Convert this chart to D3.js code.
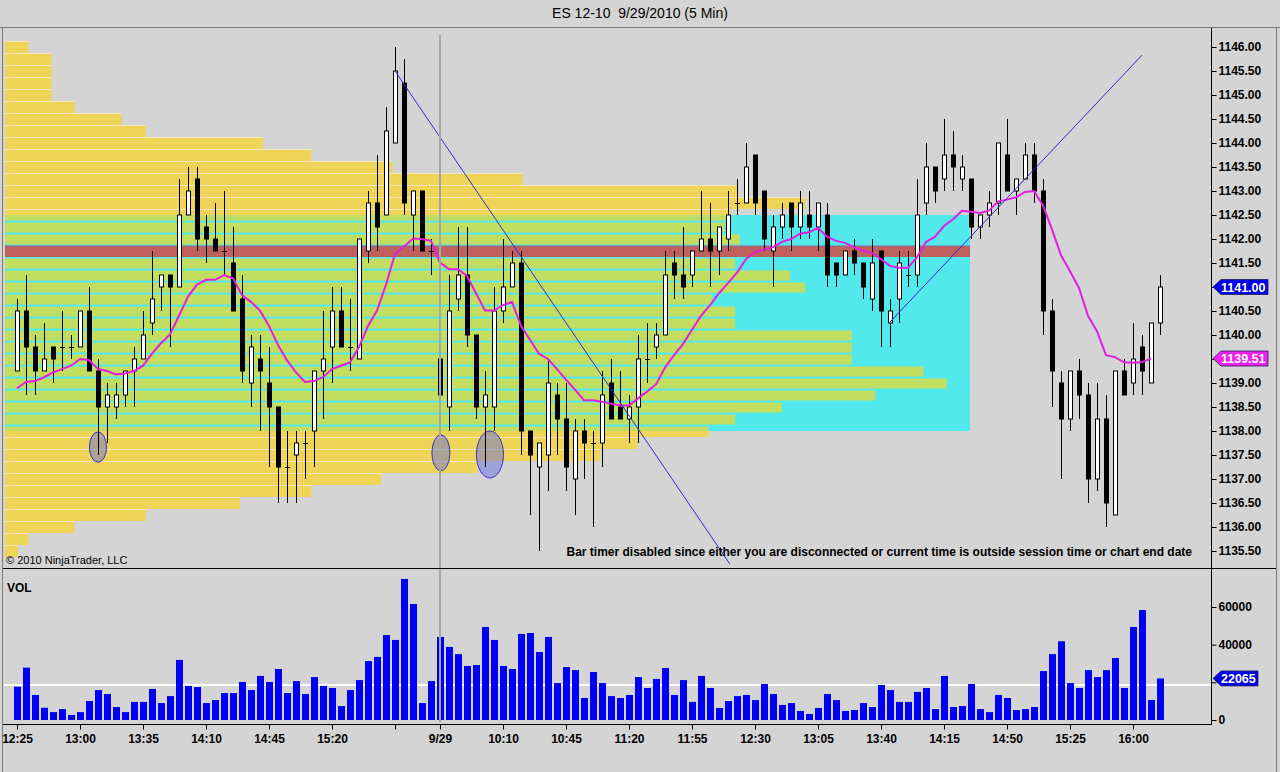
<!DOCTYPE html>
<html><head><meta charset="utf-8">
<script src="https://cdn.jsdelivr.net/npm/d3@7"></script>
<style>html,body{margin:0;padding:0;background:#d4d4d4;}svg{display:block;}</style>
</head><body>
<svg id="c" width="1280" height="772"></svg>
<script>
// ---------------- DATA ----------------
const opens = [1139.25,1140.50,1139.75,1139.25,1139.75,1139.75,1139.75,1139.75,1140.50,1139.25,
1138.50,1138.50,1138.75,1139.25,1139.50,1140.25,1141.00,1141.25,1141.00,1142.50,
1143.25,1142.25,1142.00,1141.75,1141.50,1140.75,1139.00,1139.50,1139.00,1138.50,
1137.25,1137.50,1137.75,1138.00,1139.25,1139.75,1140.50,1139.75,1139.50,1141.75,
1142.75,1142.50,1144.00,1145.25,1142.50,1143.00,1141.75,1139.50,1138.50,1140.75,
1141.25,1140.00,1138.50,1138.50,1140.50,1141.00,1141.50,1138.00,1137.25,1137.50,
1138.75,1138.25,1137.00,1138.00,1137.75,1137.75,1139.00,1138.50,1138.25,1138.50,
1139.50,1139.75,1140.00,1141.50,1141.25,1141.25,1141.75,1142.00,1141.75,1142.00,
1142.75,1142.75,1143.75,1143.00,1141.75,1142.25,1142.75,1142.25,1142.50,1142.25,
1142.50,1141.50,1141.25,1141.75,1141.50,1140.75,1141.75,1140.25,1140.75,1141.25,
1141.25,1142.75,1143.50,1143.25,1143.75,1143.25,1143.25,1142.25,1142.50,1142.75,
1143.75,1143.00,1143.25,1143.75,1143.00,1140.50,1139.00,1138.25,1139.25,1138.75,
1137.00,1138.25,1136.25,1139.25,1139.00,1139.75,1139.00,1140.25];
const highs = [1140.75,1141.25,1140.00,1140.25,1139.75,1140.50,1140.00,1140.50,1141.00,1139.50,
1139.00,1139.00,1139.25,1139.75,1140.50,1141.75,1141.25,1141.25,1143.25,1143.50,
1143.50,1142.50,1142.75,1143.00,1142.25,1141.25,1140.00,1140.00,1139.75,1138.50,
1138.00,1138.00,1138.00,1139.25,1140.50,1141.00,1141.00,1140.75,1142.00,1143.00,
1143.75,1144.75,1146.00,1145.75,1143.00,1143.00,1142.00,1139.75,1141.25,1142.25,
1142.25,1140.00,1139.25,1141.00,1142.00,1141.75,1141.75,1138.00,1137.75,1139.50,
1139.00,1139.00,1138.25,1138.25,1138.00,1139.25,1139.50,1139.25,1138.75,1140.00,
1140.25,1140.25,1141.75,1141.75,1142.25,1141.75,1143.00,1142.75,1142.25,1143.00,
1143.25,1144.00,1143.75,1143.00,1142.50,1142.75,1142.75,1143.00,1143.00,1142.75,
1142.75,1141.50,1141.75,1142.00,1141.50,1142.00,1141.75,1140.75,1141.75,1141.75,
1143.25,1144.00,1143.50,1144.50,1144.25,1143.75,1143.25,1142.50,1143.00,1144.00,
1144.50,1143.25,1144.00,1144.00,1143.25,1140.75,1139.25,1139.25,1139.50,1139.00,
1139.00,1138.75,1139.25,1139.50,1140.25,1140.00,1140.25,1141.25];
const lows = [1139.25,1138.75,1138.75,1139.25,1139.00,1139.25,1139.50,1139.75,1139.25,1137.50,
1137.75,1138.25,1138.50,1138.50,1139.50,1140.00,1140.50,1139.75,1141.00,1142.50,
1141.75,1141.50,1141.75,1141.25,1140.50,1139.00,1138.50,1138.00,1137.25,1136.50,
1136.50,1136.50,1137.00,1137.25,1138.25,1139.00,1139.75,1139.25,1139.50,1141.50,
1141.75,1142.50,1144.00,1142.50,1141.75,1141.75,1141.25,1137.50,1138.00,1140.50,
1139.75,1138.25,1137.25,1138.00,1140.25,1141.00,1137.50,1136.25,1135.50,1136.75,
1137.50,1136.75,1136.25,1137.00,1136.00,1137.25,1138.25,1138.25,1137.75,1137.75,
1139.00,1139.50,1140.00,1140.75,1140.75,1141.00,1141.75,1141.00,1141.25,1141.75,
1142.50,1142.75,1142.50,1141.75,1141.00,1142.00,1141.75,1142.00,1142.00,1141.75,
1141.00,1141.00,1141.25,1141.25,1140.75,1140.50,1139.75,1139.75,1140.25,1141.00,
1141.00,1142.50,1142.75,1143.00,1143.00,1143.00,1142.00,1142.00,1142.25,1142.50,
1143.00,1142.50,1143.25,1142.75,1140.00,1138.50,1137.00,1138.00,1138.25,1136.50,
1136.75,1136.00,1136.25,1138.75,1138.75,1138.75,1139.00,1140.00];
const closes = [1140.50,1139.75,1139.25,1139.50,1139.50,1139.75,1139.75,1140.50,1139.25,1138.50,
1138.75,1138.75,1139.25,1139.50,1140.00,1140.75,1141.25,1141.00,1142.50,1143.00,
1142.00,1142.00,1141.75,1141.75,1140.50,1139.25,1139.75,1139.25,1138.50,1137.25,
1137.25,1137.75,1137.75,1139.25,1139.50,1140.50,1139.75,1139.75,1142.00,1142.75,
1142.25,1144.25,1145.50,1142.75,1143.00,1141.75,1141.75,1138.75,1140.50,1141.25,
1140.00,1138.50,1138.75,1140.50,1141.00,1141.50,1138.00,1137.50,1137.75,1139.00,
1138.25,1137.25,1138.00,1137.75,1137.75,1138.75,1138.25,1138.25,1138.50,1139.50,
1139.50,1140.00,1141.25,1141.25,1141.00,1141.75,1142.00,1141.75,1142.25,1142.50,
1142.75,1143.50,1142.75,1142.00,1142.25,1142.50,1142.25,1142.75,1142.25,1142.75,
1141.25,1141.25,1141.75,1141.50,1141.00,1141.50,1140.50,1140.50,1141.50,1141.25,
1142.50,1143.50,1143.00,1143.75,1143.50,1143.50,1142.25,1142.50,1142.75,1144.00,
1143.00,1143.25,1143.75,1143.00,1140.50,1139.25,1138.25,1139.25,1138.75,1137.00,
1138.25,1136.50,1139.25,1138.75,1139.50,1139.25,1140.25,1141.00];
const volumes = [17700,27800,13300,6500,4200,5800,2700,4200,10100,15900,
13800,6900,4200,9600,9600,16500,9000,12700,31900,18100,
17500,9000,10600,14300,14300,20200,15900,23400,20200,27100,
14300,20700,13800,22800,18100,17000,7400,15900,21200,31300,
33500,45100,42500,74900,61600,9000,20700,44100,38800,35000,
28700,29200,49400,42500,28700,27100,45700,46200,36100,44100,
19600,28100,26500,11700,25500,19600,12700,11700,13300,22800,
17000,21800,27600,13300,21200,9600,23400,17000,6400,10100,
12700,13300,10600,19100,13800,8000,9000,4800,3200,6400,
13800,10600,4800,5300,9000,6900,18600,15900,9600,9600,
14900,17000,5800,23400,6900,7400,19100,5800,4200,13300,
11700,5300,5800,6900,26000,35000,41800,19600,17000,26500,
22800,26500,32900,17000,49400,58400,10600,22065];
// moving average (bars 0..126)
const maValues = [1138.89,1139.02,1139.04,1139.12,1139.22,1139.29,1139.36,1139.50,1139.48,1139.29,
1139.25,1139.18,1139.20,1139.25,1139.36,1139.61,1139.83,1140.01,1140.40,1140.80,
1141.05,1141.15,1141.15,1141.25,1141.18,1140.83,1140.69,1140.51,1140.19,1139.79,
1139.47,1139.22,1139.02,1139.04,1139.12,1139.29,1139.36,1139.43,1139.75,1140.19,
1140.51,1141.05,1141.69,1141.84,1142.01,1142.00,1141.96,1141.51,1141.37,1141.37,
1141.23,1140.87,1140.51,1140.51,1140.62,1140.69,1140.19,1139.90,1139.61,1139.50,
1139.29,1139.07,1138.86,1138.64,1138.64,1138.61,1138.57,1138.53,1138.53,1138.68,
1138.82,1138.97,1139.32,1139.58,1139.81,1140.11,1140.40,1140.62,1140.87,1141.08,
1141.30,1141.58,1141.73,1141.78,1141.83,1141.94,1142.00,1142.11,1142.14,1142.23,
1142.05,1141.96,1141.92,1141.83,1141.76,1141.71,1141.58,1141.44,1141.40,1141.40,
1141.62,1141.94,1142.05,1142.27,1142.41,1142.59,1142.57,1142.54,1142.59,1142.78,
1142.82,1142.87,1142.98,1143.00,1142.70,1142.20,1141.66,1141.33,1140.98,1140.40,
1140.08,1139.58,1139.54,1139.43,1139.42,1139.43,1139.51];
// volume profile (price level -> volume, thousands of contracts)
const profilePrices = [1146.00,1145.75,1145.50,1145.25,1145.00,1144.75,1144.50,1144.25,1144.00,1143.75,
1143.50,1143.25,1143.00,1142.75,1142.50,1142.25,1142.00,1141.75,1141.50,1141.25,
1141.00,1140.75,1140.50,1140.25,1140.00,1139.75,1139.50,1139.25,1139.00,1138.75,
1138.50,1138.25,1138.00,1137.75,1137.50,1137.25,1137.00,1136.75,1136.50,1136.25,
1136.00,1135.75,1135.50];
const profileVolumes = [2.9,5.8,5.8,5.8,5.8,8.7,14.5,17.5,32.1,38.1,
48.2,64.4,91.0,99.5,90.2,89.5,91.4,120.0,90.8,97.6,
99.5,87.9,90.8,90.8,105.3,105.3,105.3,114.2,117.1,108.2,
96.6,90.8,87.5,78.7,74.0,58.7,46.8,38.1,29.2,17.5,
8.6,2.9,1.6];
const pocPrice = 1141.75, vaHigh = 1142.50, vaLow = 1138.00;
const timeTickIndex = [0,7,14,21,28,35,42,47,54,61,68,75,82,89,96,103,110,117,124];
const timeTickLabels = ["12:25","13:00","13:35","14:10","14:45","15:20","","9/29","10:10","10:45","11:20","11:55","12:30","13:05","13:40","14:15","14:50","15:25","16:00"];
const priceTicks = [1146.00,1145.50,1145.00,1144.50,1144.00,1143.50,1143.00,1142.50,1142.00,1141.50,1141.00,1140.50,1140.00,1139.50,1139.00,1138.50,1138.00,1137.50,1137.00,1136.50,1136.00,1135.50];
const volTicks = [0,20000,40000,60000];
const avgVolume = 18600;
const sessionBreakIndex = 47;
// drawn trend lines: [bar index, price]
const trendLines = [[[42,1145.50],[79.2,1135.23]], [[97,1140.27],[125,1145.83]]];
// ellipses: bar index, top price, bottom price, half width in bars
const ellipses = [{i:9,top:1137.98,bot:1137.35,hw:0.95},{i:47.1,top:1137.92,bot:1137.17,hw:1.0},{i:52.55,top:1138.0,bot:1137.02,hw:1.5}];

// ---------------- DRAW ----------------
const svg = d3.select("#c");
const FONT = "Liberation Sans, Arial, sans-serif";
const x = d3.scaleLinear().domain([0,127]).range([17,1160]);
const y = d3.scaleLinear().domain([1135.5,1146]).range([551,47]);
const yv = d3.scaleLinear().domain([0,60000]).range([720,607]);
const px = d3.scaleLinear().domain([0,120]).range([5,970]);
const rowH = Math.abs(y(1141) - y(1141.25));
const lastClose = closes[closes.length-1], lastMA = maValues[maValues.length-1], lastVol = volumes[volumes.length-1];

svg.append("rect").attr("width",1280).attr("height",772).attr("fill","#d4d4d4");
// title
svg.append("text").attr("x",640).attr("y",18).attr("text-anchor","middle").attr("xml:space","preserve")
  .style("white-space","pre")
  .attr("font-family",FONT).attr("font-size",14).attr("fill","#000").text("ES 12-10  9/29/2010 (5 Min)");

const plot = svg.append("g");
plot.append("defs").append("clipPath").attr("id","pclip").append("rect")
  .attr("x",4).attr("y",29).attr("width",1207).attr("height",538);
const pg = plot.append("g").attr("clip-path","url(#pclip)");

// profile rows (yellow)
const prof = profilePrices.map((p,k)=>({p, v:profileVolumes[k]}));
pg.selectAll("rect.py").data(prof).join("rect").attr("class","py")
  .attr("x",px(0)).attr("y",d=>y(d.p)-rowH/2).attr("width",d=>px(d.v)-px(0)).attr("height",rowH)
  .attr("fill","#eed558");
pg.selectAll("line.pys").data(prof).join("line").attr("class","pys")
  .attr("x1",px(0)).attr("x2",d=>px(d.v)).attr("y1",d=>y(d.p)-rowH/2+0.5).attr("y2",d=>y(d.p)-rowH/2+0.5)
  .attr("stroke","#f1e6bd").attr("stroke-width",1);
// value area box
const vaTop = y(vaHigh), vaBot = y(vaLow);
pg.append("rect").attr("x",px(0)).attr("y",vaTop).attr("width",px(120)-px(0)).attr("height",vaBot-vaTop).attr("fill","#52e9ec");
pg.append("clipPath").attr("id","vaclip").append("rect").attr("x",0).attr("y",vaTop).attr("width",1280).attr("height",vaBot-vaTop);
pg.append("g").attr("clip-path","url(#vaclip)").selectAll("rect").data(prof).join("rect")
  .attr("x",px(0)).attr("y",d=>y(d.p)-rowH/2+1.5).attr("width",d=>px(d.v)-px(0)).attr("height",rowH-2)
  .attr("fill","#c2dd5f");
// POC band
pg.append("rect").attr("x",px(0)).attr("y",y(pocPrice)-rowH/2+1).attr("width",px(120)-px(0)).attr("height",rowH-1)
  .attr("fill","#bf605c");
pg.append("line").attr("x1",px(0)).attr("x2",px(120)).attr("y1",y(pocPrice)-rowH/2+1).attr("y2",y(pocPrice)-rowH/2+1)
  .attr("stroke","#8a6a90").attr("stroke-width",1);

// volume panel: average line first, bars on top
const vg = svg.append("g");
vg.append("line").attr("x1",4).attr("x2",1211).attr("y1",yv(avgVolume)).attr("y2",yv(avgVolume))
  .attr("stroke","#fff").attr("stroke-width",2);
vg.selectAll("rect.v").data(volumes).join("rect").attr("class","v")
  .attr("x",(d,i)=>Math.round(x(i))-3).attr("width",7)
  .attr("y",d=>yv(d)).attr("height",d=>yv(0)-yv(d)).attr("fill","#0000f6");

// session break line
svg.append("line").attr("x1",x(sessionBreakIndex)).attr("x2",x(sessionBreakIndex)).attr("y1",35).attr("y2",722)
  .attr("stroke","#a6a6a6").attr("stroke-width",2);

// ellipses
pg.selectAll("ellipse").data(ellipses).join("ellipse")
  .attr("cx",d=>x(d.i)).attr("cy",d=>(y(d.top)+y(d.bot))/2)
  .attr("rx",d=>x(d.hw)-x(0)).attr("ry",d=>(y(d.bot)-y(d.top))/2)
  .attr("fill","rgba(80,90,232,0.42)").attr("stroke","#3434c4").attr("stroke-width",1);

// candles
const bars = opens.map((o,i)=>({i,o,h:highs[i],l:lows[i],c:closes[i]}));
const cg = pg.append("g");
cg.selectAll("line.w").data(bars).join("line").attr("class","w")
  .attr("x1",d=>Math.round(x(d.i))+0.5).attr("x2",d=>Math.round(x(d.i))+0.5)
  .attr("y1",d=>y(d.h)).attr("y2",d=>y(d.l)).attr("stroke","#000").attr("stroke-width",1);
cg.selectAll("rect.b").data(bars.filter(d=>d.o!==d.c)).join("rect").attr("class","b")
  .attr("x",d=>Math.round(x(d.i))-1.5).attr("width",4)
  .attr("y",d=>y(Math.max(d.o,d.c))).attr("height",d=>Math.abs(y(d.o)-y(d.c)))
  .attr("fill",d=>d.c>d.o?"#fff":"#000").attr("stroke","#000").attr("stroke-width",1);
cg.selectAll("line.dj").data(bars.filter(d=>d.o===d.c)).join("line").attr("class","dj")
  .attr("x1",d=>Math.round(x(d.i))-2).attr("x2",d=>Math.round(x(d.i))+3)
  .attr("y1",d=>Math.round(y(d.o))+0.5).attr("y2",d=>Math.round(y(d.o))+0.5).attr("stroke","#000");

// moving average
pg.append("path").datum(maValues).attr("fill","none").attr("stroke","#e21fe0").attr("stroke-width",2)
  .attr("d",d3.line().x((d,i)=>x(i)).y(d=>y(d)));

// trend lines
pg.selectAll("line.tl").data(trendLines).join("line").attr("class","tl")
  .attr("x1",d=>x(d[0][0])).attr("y1",d=>y(d[0][1])).attr("x2",d=>x(d[1][0])).attr("y2",d=>y(d[1][1]))
  .attr("stroke","#2d2dd6").attr("stroke-width",1);

// texts in price panel
svg.append("text").attr("x",1192).attr("y",556).attr("text-anchor","end").attr("font-family",FONT)
  .attr("font-size",12).attr("font-weight","bold").attr("fill","#000")
  .text("Bar timer disabled since either you are disconnected or current time is outside session time or chart end date");
svg.append("text").attr("x",6).attr("y",564).attr("font-family",FONT).attr("font-size",11).attr("fill","#000")
  .text("\u00a9 2010 NinjaTrader, LLC");
svg.append("text").attr("x",7).attr("y",592).attr("font-family",FONT).attr("font-size",12).attr("font-weight","bold").text("VOL");

// frame lines
const frame = svg.append("g").attr("stroke","#000").attr("stroke-width",1);
frame.append("line").attr("x1",0).attr("x2",1280).attr("y1",27.5).attr("y2",27.5).attr("stroke","#7a7a7a");
frame.append("line").attr("x1",2.5).attr("x2",2.5).attr("y1",28).attr("y2",772).attr("stroke","#7a7a7a");
frame.append("line").attr("x1",1276.5).attr("x2",1276.5).attr("y1",28).attr("y2",772).attr("stroke","#7a7a7a");
frame.append("line").attr("x1",3).attr("x2",1276).attr("y1",568.5).attr("y2",568.5);
frame.append("line").attr("x1",3).attr("x2",1212).attr("y1",724.5).attr("y2",724.5);
frame.append("line").attr("x1",1211.5).attr("x2",1211.5).attr("y1",28).attr("y2",725);

// axis label style helper; labels hidden behind value markers are not drawn
function styleAxis(g, hidden){
  g.select(".domain").remove();
  g.selectAll("text").attr("font-family",FONT).attr("font-size",12).attr("font-weight","bold").attr("fill","#000")
    .filter(d=>hidden(d)).remove();
}
const pa = svg.append("g").attr("transform","translate(1211.5,0)");
pa.call(d3.axisRight(y).tickValues(priceTicks).tickFormat(d3.format(".2f")).tickSize(5).tickPadding(2))
  .call(g=>styleAxis(g, d=>Math.abs(y(d)-y(lastClose))<13 || Math.abs(y(d)-y(lastMA))<13));
const va = svg.append("g").attr("transform","translate(1211.5,0)");
va.call(d3.axisRight(yv).tickValues(volTicks).tickFormat(d3.format("d")).tickSize(5).tickPadding(2))
  .call(g=>styleAxis(g, d=>Math.abs(yv(d)-yv(lastVol))<13));
const ta = svg.append("g").attr("transform","translate(0,724.5)");
ta.call(d3.axisBottom(x).tickValues(timeTickIndex).tickFormat((d,k)=>timeTickLabels[k]).tickSize(5).tickPadding(5))
  .call(g=>styleAxis(g, d=>false));

// value markers
function marker(yy, label, fill, right){
  const g = svg.append("g");
  g.append("path").attr("d",`M1213,${yy} L1221,${yy-7.5} L${right},${yy-7.5} L${right},${yy+7.5} L1221,${yy+7.5} Z`)
    .attr("fill",fill).attr("stroke","#202060").attr("stroke-width",0.8);
  g.append("text").attr("x",1221).attr("y",yy+4.5).attr("font-family",FONT).attr("font-size",12.5).attr("font-weight","bold")
    .attr("fill","#fff").text(label);
}
marker(y(lastClose), d3.format(".2f")(lastClose), "#0000e6", 1268);
marker(y(lastMA), d3.format(".2f")(lastMA), "#ee22ee", 1268);
marker(yv(lastVol), String(lastVol), "#0000e6", 1258);
</script>
</body></html>
